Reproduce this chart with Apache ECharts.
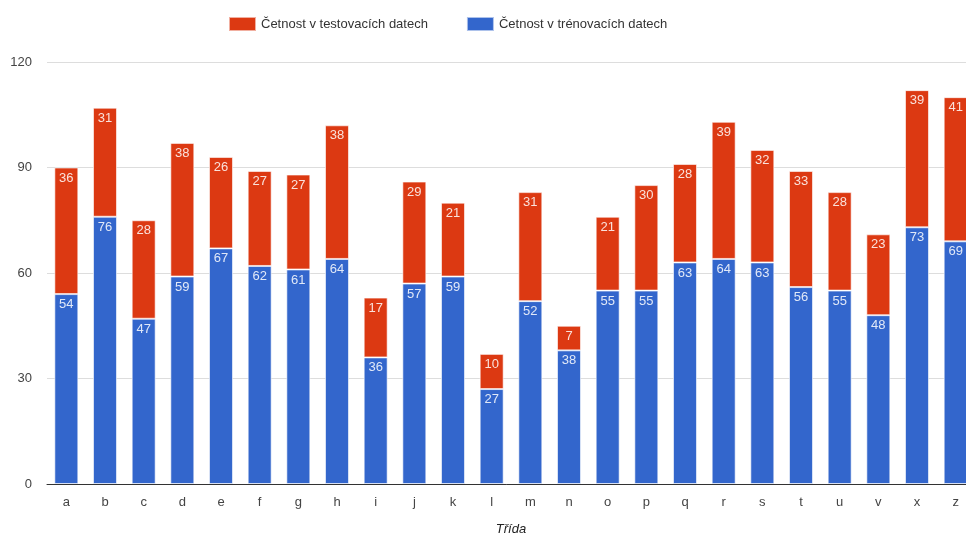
<!DOCTYPE html>
<html>
<head>
<meta charset="utf-8">
<script src="https://cdn.jsdelivr.net/npm/echarts@6/dist/echarts.min.js"></script>
<style>
  html, body { margin: 0; padding: 0; background: #fff; overflow: hidden; }
  #chart { width: 966px; height: 536px; }
</style>
</head>
<body>
<div id="chart"></div>
<script>
const classes = ['a','b','c','d','e','f','g','h','i','j','k','l','m','n','o','p','q','r','s','t','u','v','x','z'];
const trainCounts = [54,76,47,59,67,62,61,64,36,57,59,27,52,38,55,55,63,64,63,56,55,48,73,69];
const testCounts = [36,31,28,38,26,27,27,38,17,29,21,10,31,7,21,30,28,39,32,33,28,23,39,41];
const yTicks = [0, 30, 60, 90, 120];

const font = 'Liberation Sans, Arial, sans-serif';
const barLabel = {
  show: true,
  position: 'insideTop',
  distance: 4,
  color: 'rgba(255,255,255,0.85)',
  fontFamily: font,
  fontSize: 13
};
const barEdge = { borderColor: 'rgba(255,255,255,0.6)', borderWidth: 1 };

const chart = echarts.init(document.getElementById('chart'), null, { renderer: 'canvas' });
chart.setOption({
  animation: false,
  textStyle: { fontFamily: font },
  legend: {
    top: 11,
    left: 223,
    itemWidth: 27,
    itemHeight: 14,
    itemGap: 38,
    icon: 'rect',
    textStyle: { fontSize: 13, color: '#333', fontFamily: font },
    data: ['Četnost v testovacích datech', 'Četnost v trénovacích datech']
  },
  grid: { left: 47, width: 928, top: 62, height: 422, containLabel: false, outerBoundsMode: 'none' },
  xAxis: {
    type: 'category',
    data: classes,
    name: 'Třída',
    nameLocation: 'middle',
    nameGap: 39,
    nameTextStyle: { fontStyle: 'italic', fontSize: 13, color: '#222', fontFamily: font },
    axisTick: { show: false },
    axisLine: { lineStyle: { color: '#333', width: 1 } },
    axisLabel: { color: '#444', fontSize: 13, margin: 12, fontFamily: font }
  },
  yAxis: {
    type: 'value',
    min: yTicks[0],
    max: yTicks[yTicks.length - 1],
    interval: 30,
    axisLine: { show: false },
    axisTick: { show: false },
    splitLine: { lineStyle: { color: '#ddd' } },
    axisLabel: { color: '#444', fontSize: 13, margin: 15, fontFamily: font }
  },
  series: [
    {
      name: 'Četnost v trénovacích datech',
      type: 'bar',
      stack: 'total',
      barWidth: '62%',
      data: trainCounts,
      itemStyle: Object.assign({ color: '#3366cc' }, barEdge),
      label: barLabel
    },
    {
      name: 'Četnost v testovacích datech',
      type: 'bar',
      stack: 'total',
      barWidth: '62%',
      data: testCounts,
      itemStyle: Object.assign({ color: '#dc3912' }, barEdge),
      label: barLabel
    }
  ]
});
</script>
</body>
</html>
